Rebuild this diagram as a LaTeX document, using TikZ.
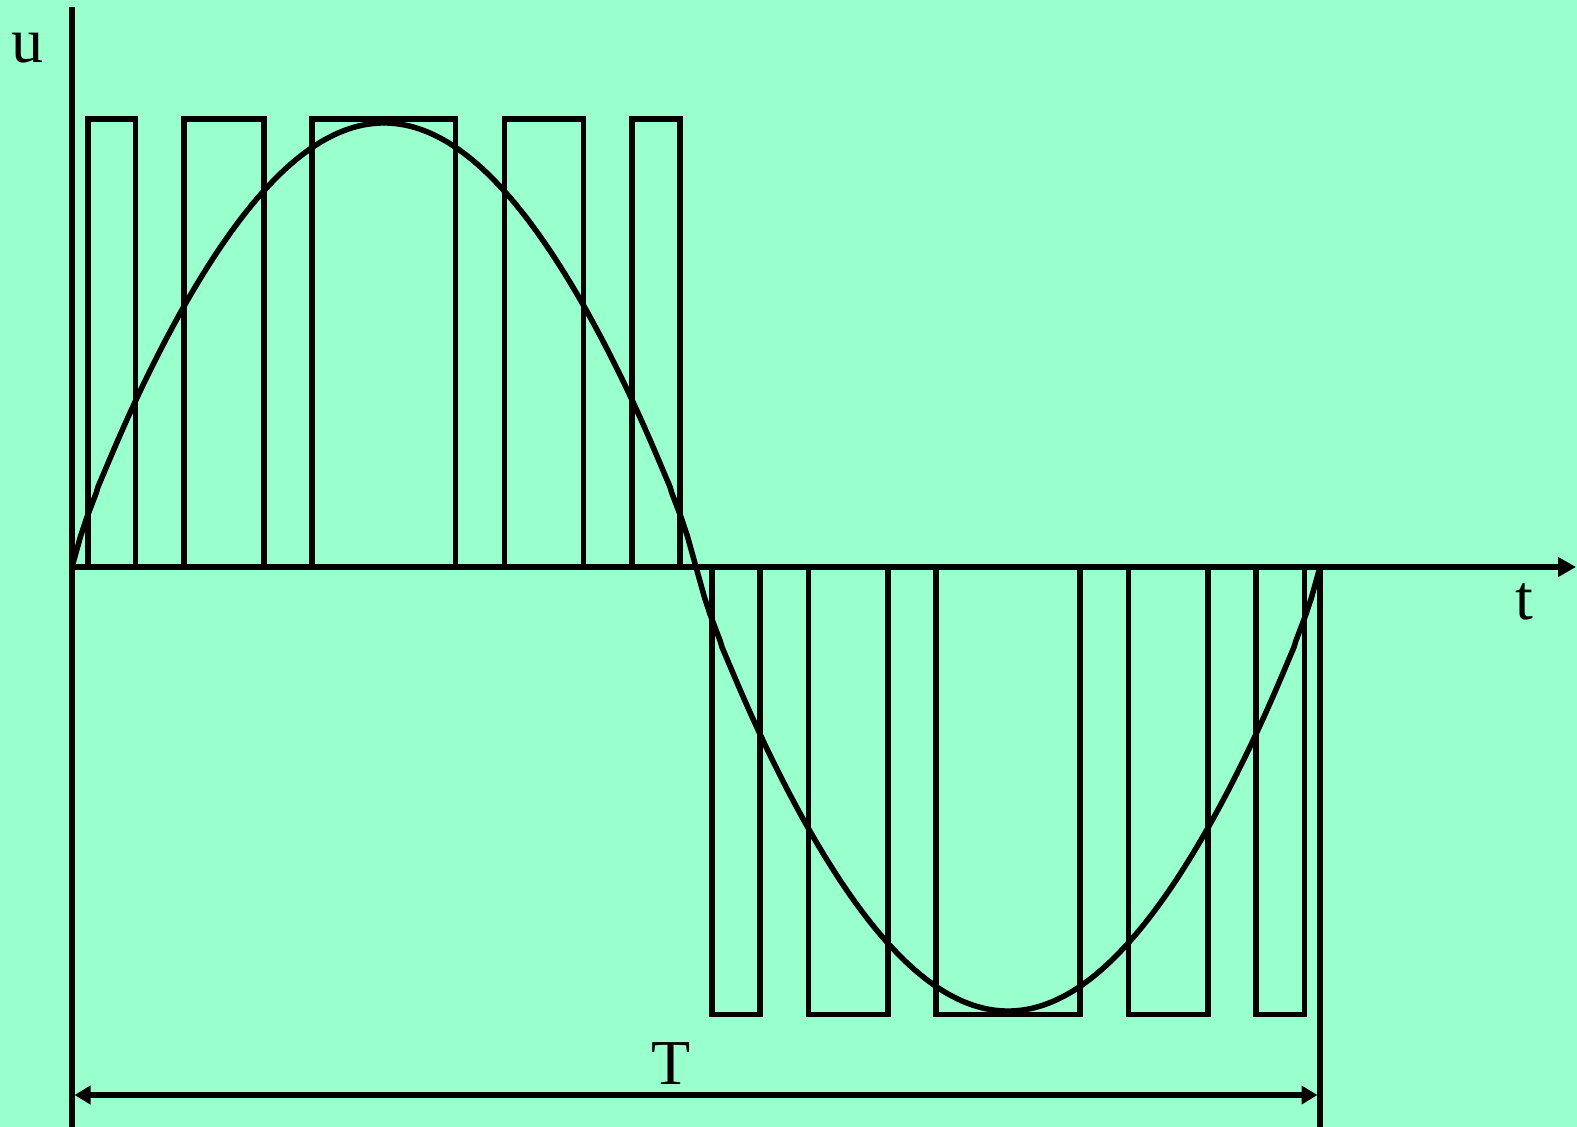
\documentclass[tikz,border=0pt]{standalone}
\usepackage{fontspec}
\setmainfont{Liberation Serif}
\usetikzlibrary{arrows.meta}
\definecolor{bgcol}{RGB}{153,255,204}
\tikzset{
  wave/.style={line width=5.5pt, line join=round},
  axis/.style={line width=5.5pt},
  pulse/.style={line width=5.5pt, line join=miter},
  lbl/.style={font=\fontsize{64}{70}\selectfont, inner sep=0pt, anchor=base},
}
\begin{document}
\begin{tikzpicture}[x=1pt,y=-1pt]
\fill[bgcol] (0,0) rectangle (1577,1127);
\useasboundingbox (0,0) rectangle (1577,1127);
% coordinates
\coordinate (vtop) at (72,7);
\coordinate (vbot) at (72,1127);
\coordinate (o) at (72,567);
\coordinate (mid) at (696,567);
\coordinate (tend) at (1576,567);
\coordinate (rtop) at (1320,567);
\coordinate (rbot) at (1320,1127);
\coordinate (tl) at (74.5,1095);
\coordinate (tr) at (1317.5,1095);
% axes
\draw[axis] (vtop) -- (vbot);
\draw[axis, -{Triangle[length=18pt,width=19pt]}] (o) -- (tend);
\draw[axis] (rtop) -- (rbot);
% positive pulses
\foreach \a/\b in {88/135.5, 184/264, 312/455.5, 504.5/583.5, 632/680}
  \draw[pulse] (\a,119) rectangle (\b,567);
% negative pulses
\foreach \a/\b in {712/760, 808.5/888, 936/1080, 1128.5/1208, 1256/1304.5}
  \draw[pulse] (\a,567) rectangle (\b,1014.5);
% modulating wave
\draw[wave] (o)
  -- plot[domain=2.5:177.5, samples=351] ({72+\x*3.466667},{567-444*pow(sin(\x),0.85)})
  -- (mid)
  -- plot[domain=182.5:357.5, samples=351] ({72+\x*3.466667},{567+444*pow(-sin(\x),0.85)})
  -- (rtop);
% period arrow
\draw[axis, {Triangle[length=16pt,width=18pt]}-{Triangle[length=16pt,width=18pt]}] (tl) -- (tr);
% labels
\node[lbl] (u) at (27.5,62) {u};
\node[lbl] (t) at (1524,619) {t};
\node[lbl] (T) at (671,1084) {T};
\end{tikzpicture}
\end{document}
